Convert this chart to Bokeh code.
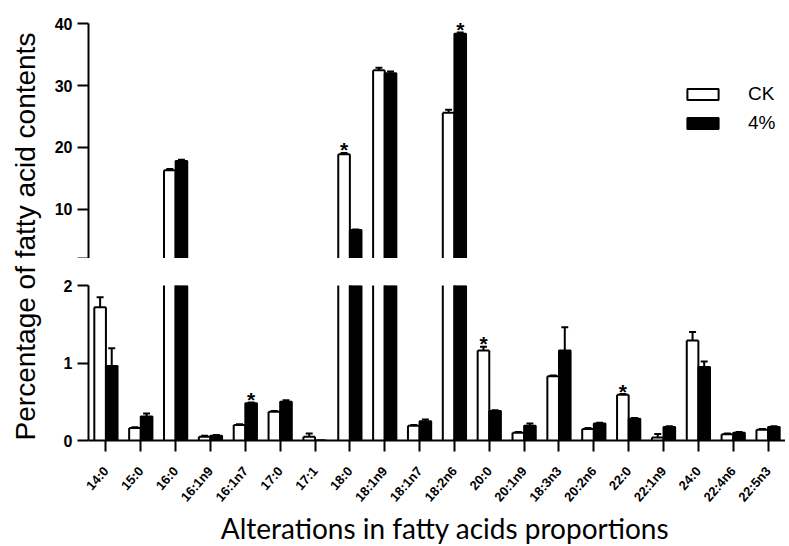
from math import pi
import numpy as np
from bokeh.plotting import figure
from bokeh.layouts import row, column
from bokeh.models import (ColumnDataSource, FactorRange, Range1d, FixedTicker,
                          Label, Legend, LegendItem)
from bokeh.transform import dodge
from bokeh.core.properties import value
from bokeh.embed import file_html
from bokeh.resources import INLINE

# ---------------- data ----------------
categories = ["14:0", "15:0", "16:0", "16:1n9", "16:1n7", "17:0", "17:1", "18:0",
              "18:1n9", "18:1n7", "18:2n6", "20:0", "20:1n9", "18:3n3", "20:2n6",
              "22:0", "22:1n9", "24:0", "22:4n6", "22:5n3"]
ck_mean = [1.72, 0.16, 16.3, 0.05, 0.20, 0.37, 0.05, 18.9, 32.5, 0.19, 25.6,
           1.16, 0.10, 0.83, 0.15, 0.59, 0.04, 1.29, 0.08, 0.14]
ck_err = [0.13, 0.01, 0.2, 0.01, 0.01, 0.01, 0.04, 0.2, 0.4, 0.01, 0.5,
          0.05, 0.01, 0.01, 0.01, 0.01, 0.045, 0.11, 0.01, 0.01]
t4_mean = [0.96, 0.31, 17.8, 0.06, 0.48, 0.50, 0.0, 6.6, 32.0, 0.25, 38.4,
           0.38, 0.19, 1.16, 0.22, 0.28, 0.175, 0.95, 0.10, 0.175]
t4_err = [0.23, 0.04, 0.2, 0.01, 0.01, 0.02, 0.0, 0.1, 0.3, 0.02, 0.2,
          0.01, 0.03, 0.30, 0.01, 0.01, 0.01, 0.07, 0.01, 0.01]
ck_sig = [0, 0, 0, 0, 0, 0, 0, 1, 0, 0, 0, 1, 0, 0, 0, 1, 0, 0, 0, 0]
t4_sig = [0, 0, 0, 0, 1, 0, 0, 0, 0, 0, 1, 0, 0, 0, 0, 0, 0, 0, 0, 0]
series_names = ["CK", "4%"]
top_ticks = [2, 10, 20, 30, 40]
bottom_ticks = [0, 1, 2]
y_title = "Percentage of fatty acid contents"
x_title = "Alterations in fatty acids proportions"

# ---------------- styling constants ----------------
BAR_W = 1 / 3
OFF = 1 / 6
CAP = 0.2
BLACK = "#000000"
TICK_FONT = "Liberation Sans"
LABEL_TILT = 0.85   # radians, tilt of the category labels

xr = FactorRange(factors=categories, range_padding=0)


def series_rows(means, errs, flags, lo, hi):
    c, m, t, s, e = [], [], [], [], []
    for cat, mv, ev, fv in zip(categories, means, errs, flags):
        if mv > lo:
            c.append(cat)
            m.append(mv)
            t.append(mv + ev)
            s.append("*" if fv else "")
            e.append(mv <= hi)
    return c, m, t, s, e


def draw(p, lo, hi):
    for means, errs, flags, off, white in ((ck_mean, ck_err, ck_sig, -OFF, True),
                                           (t4_mean, t4_err, t4_sig, OFF, False)):
        c, m, t, s, inside = series_rows(means, errs, flags, lo, hi)
        src = ColumnDataSource(dict(cat=c, mean=m, top=t))
        if white:
            # white bar: fill only; outline drawn with segments so the cut at the
            # axis break stays open
            p.vbar(x=dodge("cat", off, range=xr), top="mean", bottom=0,
                   width=BAR_W, source=src, fill_color="white", line_color=None)
            for side in (-BAR_W / 2, BAR_W / 2):
                p.segment(x0=dodge("cat", off + side, range=xr), y0=0,
                          x1=dodge("cat", off + side, range=xr), y1="mean",
                          source=src, line_color=BLACK, line_width=2)
            tsrc = ColumnDataSource(dict(
                cat=[cc for cc, ok in zip(c, inside) if ok],
                mean=[mm for mm, ok in zip(m, inside) if ok]))
            p.segment(x0=dodge("cat", off - BAR_W / 2, range=xr), y0="mean",
                      x1=dodge("cat", off + BAR_W / 2, range=xr), y1="mean",
                      source=tsrc, line_color=BLACK, line_width=2)
        else:
            p.vbar(x=dodge("cat", off, range=xr), top="mean", bottom=0,
                   width=BAR_W, source=src, fill_color=BLACK,
                   line_color=BLACK, line_width=2)
        p.segment(x0=dodge("cat", off, range=xr), y0="mean",
                  x1=dodge("cat", off, range=xr), y1="top",
                  source=src, line_color=BLACK, line_width=2)
        p.segment(x0=dodge("cat", off - CAP / 2, range=xr), y0="top",
                  x1=dodge("cat", off + CAP / 2, range=xr), y1="top",
                  source=src, line_color=BLACK, line_width=2)
        sc, sy, st = [], [], []
        for cat, tv, sv in zip(c, t, s):
            if sv and lo < tv <= hi:
                sc.append(cat)
                sy.append(tv)
                st.append(sv)
        ss = ColumnDataSource(dict(cat=sc, y=sy, s=st))
        p.text(x=dodge("cat", off, range=xr), y="y", text="s", source=ss,
               text_align="center", text_baseline="alphabetic", y_offset=-3,
               text_font=value(TICK_FONT), text_font_style="bold",
               text_font_size="21px", text_color=BLACK)


def style_y(p, ticks, bounds):
    ax = p.yaxis[0]
    ax.ticker = FixedTicker(ticks=ticks)
    ax.bounds = bounds
    ax.axis_line_width = 2
    ax.axis_line_color = BLACK
    ax.major_tick_line_width = 2
    ax.major_tick_line_color = BLACK
    ax.major_tick_out = 11
    ax.major_tick_in = 0
    ax.minor_tick_line_color = None
    ax.major_label_text_font = TICK_FONT
    ax.major_label_text_font_style = "bold"
    ax.major_label_text_font_size = "16px"
    ax.major_label_text_color = BLACK
    ax.major_label_standoff = 5


common = dict(x_range=xr, width=737, output_backend="svg", toolbar_location=None,
              min_border_left=40, min_border_right=0)

# ---------- top panel (2..40) ----------
top = figure(y_range=Range1d(2, 42), height=258, min_border_top=11,
             min_border_bottom=0, x_axis_location=None, **common)
draw(top, 2, 100)
style_y(top, top_ticks, (2, 40))
top.yaxis[0].major_label_overrides = {2: ""}
top.grid.visible = False
top.outline_line_color = None

# legend renderers: one undrawable (NaN) bar each, carrying the series styles
leg_src = ColumnDataSource(dict(cat=[categories[0]], v=np.array([np.nan])))
leg_ck = top.vbar(x="cat", top="v", width=BAR_W, source=leg_src,
                  fill_color="white", line_color=BLACK, line_width=2)
leg_t4 = top.vbar(x="cat", top="v", width=BAR_W, source=leg_src,
                  fill_color=BLACK, line_color=BLACK, line_width=2)
legend = Legend(items=[LegendItem(label=series_names[0], renderers=[leg_ck]),
                       LegendItem(label=series_names[1], renderers=[leg_t4])],
                location=(595, 124), orientation="vertical",
                glyph_width=39, glyph_height=14, label_standoff=26,
                spacing=7, padding=0, margin=0,
                label_text_font=TICK_FONT, label_text_font_size="19px",
                label_text_color=BLACK, border_line_color=None,
                background_fill_alpha=0)
top.add_layout(legend)

# ---------- bottom panel (0..2) with the category axis ----------
bot = figure(y_range=Range1d(0, 2), height=254, min_border_top=27,
             min_border_bottom=70, **common)
draw(bot, -1, 2)
style_y(bot, bottom_ticks, (0, 2))
bot.grid.visible = False
bot.outline_line_color = None
xa = bot.xaxis[0]
xa.axis_line_width = 2
xa.axis_line_color = BLACK
xa.major_tick_line_width = 2
xa.major_tick_line_color = BLACK
xa.major_tick_out = 11
xa.major_tick_in = 0
xa.major_label_orientation = LABEL_TILT
xa.major_label_text_font = TICK_FONT
xa.major_label_text_font_style = "bold"
xa.major_label_text_font_size = "13px"
xa.major_label_text_color = BLACK
xa.major_label_standoff = 17

# ---------- x title ----------
n = len(categories)
T_H = 546 - 258 - 254
ttl = figure(x_range=xr, y_range=Range1d(0, T_H), width=737, height=T_H,
             output_backend="svg", toolbar_location=None, x_axis_location=None,
             y_axis_location=None, min_border_left=40, min_border_right=0,
             min_border_top=0, min_border_bottom=0)
ttl.grid.visible = False
ttl.outline_line_color = None
ttl.add_layout(Label(x=n / 2, y=19, x_offset=8, text=x_title,
                     text_align="center", text_baseline="middle",
                     text_font="Lato", text_font_size="28px", text_color=BLACK))

# ---------- y title ----------
lab = figure(width=48, height=546, x_range=Range1d(0, 48), y_range=Range1d(0, 546),
             output_backend="svg", toolbar_location=None, x_axis_location=None,
             y_axis_location=None, min_border=0)
lab.grid.visible = False
lab.outline_line_color = None
lab.add_layout(Label(x=25, y=310, text=y_title, angle=pi / 2, text_align="center",
                     text_baseline="middle", text_font=TICK_FONT,
                     text_font_size="28px", text_color=BLACK))

layout = row(lab, column(top, bot, ttl, spacing=0), spacing=0)

with open("out.html", "w") as f:
    f.write(file_html(layout, INLINE))
